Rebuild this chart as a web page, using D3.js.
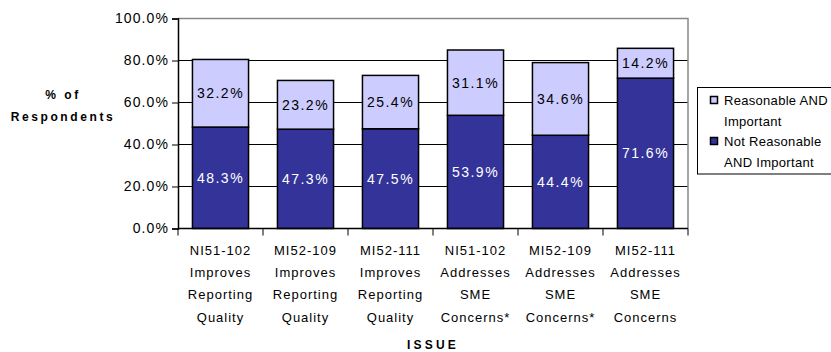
<!DOCTYPE html>
<html>
<head>
<meta charset="utf-8">
<script src="https://cdn.jsdelivr.net/npm/d3@7"></script>
<style>
  html, body { margin: 0; padding: 0; background: #fff; }
  svg { display: block; font-family: "Liberation Sans", Arial, sans-serif; }
</style>
</head>
<body>
<svg id="chart" width="831" height="352"></svg>
<script>
// Survey results: share of respondents by issue
const categories = [
  ["NI51-102", "Improves", "Reporting", "Quality"],
  ["MI52-109", "Improves", "Reporting", "Quality"],
  ["MI52-111", "Improves", "Reporting", "Quality"],
  ["NI51-102", "Addresses", "SME", "Concerns*"],
  ["MI52-109", "Addresses", "SME", "Concerns*"],
  ["MI52-111", "Addresses", "SME", "Concerns"]
];
const notReasonable = [48.3, 47.3, 47.5, 53.9, 44.4, 71.6];
const reasonable = [32.2, 23.2, 25.4, 31.1, 34.6, 14.2];
const yTicks = [0, 20, 40, 60, 80, 100];
const seriesNames = ["Not Reasonable AND Important", "Reasonable AND Important"];
const legendLines = [["Reasonable AND", "Important"], ["Not Reasonable", "AND Important"]];
const colors = { dark: "#333399", light: "#ccccff" };

const FONT = "Liberation Sans, Arial, sans-serif";
const svg = d3.select("#chart");
const plot = { left: 178, right: 688, top: 18.5, bottom: 228.5 };

const x = d3.scaleBand()
  .domain(d3.range(categories.length))
  .range([plot.left, plot.right])
  .paddingInner(0.34)
  .paddingOuter(0.17);

const y = d3.scaleLinear().domain([0, 100]).range([plot.bottom, plot.top]);

// gridlines
svg.append("g")
  .selectAll("line")
  .data(yTicks.filter(t => t > 0 && t < 100))
  .join("line")
  .attr("x1", plot.left).attr("x2", plot.right)
  .attr("y1", d => y(d)).attr("y2", d => y(d))
  .attr("stroke", "#000").attr("stroke-width", 1);

// plot frame (top and right, gray)
svg.append("path")
  .attr("d", `M${plot.left},${y(100)}H${plot.right}V${plot.bottom}`)
  .attr("fill", "none").attr("stroke", "#888").attr("stroke-width", 1.5);

// stacked data
const stackData = categories.map((c, i) => ({ i, low: notReasonable[i], high: reasonable[i] }));

const bars = svg.append("g");
bars.selectAll("rect.low")
  .data(stackData)
  .join("rect")
  .attr("class", "low")
  .attr("x", d => x(d.i))
  .attr("width", x.bandwidth())
  .attr("y", d => y(d.low))
  .attr("height", d => y(0) - y(d.low))
  .attr("fill", colors.dark)
  .attr("stroke", "#000").attr("stroke-width", 1.5);

bars.selectAll("rect.high")
  .data(stackData)
  .join("rect")
  .attr("class", "high")
  .attr("x", d => x(d.i))
  .attr("width", x.bandwidth())
  .attr("y", d => y(d.low + d.high))
  .attr("height", d => y(d.low) - y(d.low + d.high))
  .attr("fill", colors.light)
  .attr("stroke", "#000").attr("stroke-width", 1.5);

// value labels
const valueFont = { size: 14, spacing: 1.5 };
bars.selectAll("text.low")
  .data(stackData)
  .join("text")
  .attr("x", d => x(d.i) + x.bandwidth() / 2)
  .attr("y", d => (y(0) + y(d.low)) / 2)
  .attr("dy", "0.36em")
  .attr("text-anchor", "middle")
  .attr("font-size", valueFont.size)
  .attr("letter-spacing", valueFont.spacing)
  .attr("fill", "#fff")
  .text(d => d.low.toFixed(1) + "%");

bars.selectAll("text.high")
  .data(stackData)
  .join("text")
  .attr("x", d => x(d.i) + x.bandwidth() / 2)
  .attr("y", d => (y(d.low) + y(d.low + d.high)) / 2)
  .attr("dy", "0.36em")
  .attr("text-anchor", "middle")
  .attr("font-size", valueFont.size)
  .attr("letter-spacing", valueFont.spacing)
  .attr("fill", "#000")
  .text(d => d.high.toFixed(1) + "%");

// y axis
const yAxis = svg.append("g")
  .attr("transform", `translate(${plot.left},0)`)
  .call(d3.axisLeft(y).tickValues(yTicks).tickSize(6).tickPadding(3).tickFormat(d => d.toFixed(1) + "%"));
yAxis.select(".domain").attr("stroke", "#000").attr("stroke-width", 1.5);
yAxis.selectAll(".tick line").attr("stroke", "#000");
yAxis.selectAll(".tick text")
  .attr("font-size", 14).attr("letter-spacing", 1.1)
  .attr("fill", "#000").attr("font-family", FONT);

// x axis with ticks at band boundaries
const xAxisG = svg.append("g");
xAxisG.append("line")
  .attr("x1", plot.left).attr("x2", plot.right)
  .attr("y1", plot.bottom).attr("y2", plot.bottom)
  .attr("stroke", "#000").attr("stroke-width", 1.5);
const boundaries = d3.range(categories.length + 1).map(i => plot.left + i * x.step());
xAxisG.selectAll("line.tick")
  .data(boundaries)
  .join("line")
  .attr("class", "tick")
  .attr("x1", d => d).attr("x2", d => d)
  .attr("y1", plot.bottom).attr("y2", plot.bottom + 7)
  .attr("stroke", "#000");

const catLabels = xAxisG.selectAll("text.cat")
  .data(categories.map((c, i) => ({ c, i })))
  .join("text")
  .attr("class", "cat")
  .attr("text-anchor", "middle")
  .attr("font-size", 13)
  .attr("letter-spacing", 1)
  .attr("fill", "#000");
catLabels.selectAll("tspan")
  .data(d => d.c.map((line, k) => ({ line, k, cx: x(d.i) + x.bandwidth() / 2 })))
  .join("tspan")
  .attr("x", d => d.cx)
  .attr("y", d => 255 + d.k * 22.2)
  .text(d => d.line);

// axis titles
svg.append("text")
  .attr("x", (plot.left + plot.right) / 2)
  .attr("y", 349)
  .attr("text-anchor", "middle")
  .attr("font-size", 12).attr("font-weight", "bold").attr("letter-spacing", 3.2)
  .text("ISSUE");

const yTitle = svg.append("text")
  .attr("text-anchor", "middle")
  .attr("font-size", 12).attr("font-weight", "bold").attr("letter-spacing", 2.6);
yTitle.append("tspan").attr("x", 63).attr("y", 99).text("% of");
yTitle.append("tspan").attr("x", 63).attr("y", 121).text("Respondents");

// legend
const legend = svg.append("g");
legend.append("rect")
  .attr("x", 697.5).attr("y", 87.5).attr("width", 140).attr("height", 86.5)
  .attr("fill", "#fff").attr("stroke", "#000").attr("stroke-width", 1);
const legendItems = [
  { fill: colors.light, lines: legendLines[0], name: seriesNames[1], cy: 100 },
  { fill: colors.dark, lines: legendLines[1], name: seriesNames[0], cy: 141 }
];
legendItems.forEach(item => {
  legend.append("rect")
    .attr("x", 710.5).attr("y", item.cy - 3.5).attr("width", 7).attr("height", 7)
    .attr("fill", item.fill).attr("stroke", "#000").attr("stroke-width", 1.5);
  const t = legend.append("text")
    .attr("font-size", 13).attr("letter-spacing", 0.3).attr("fill", "#000");
  item.lines.forEach((ln, k) => {
    t.append("tspan").attr("x", 724).attr("y", item.cy + 4.5 + k * 21).text(ln);
  });
});
</script>
</body>
</html>
